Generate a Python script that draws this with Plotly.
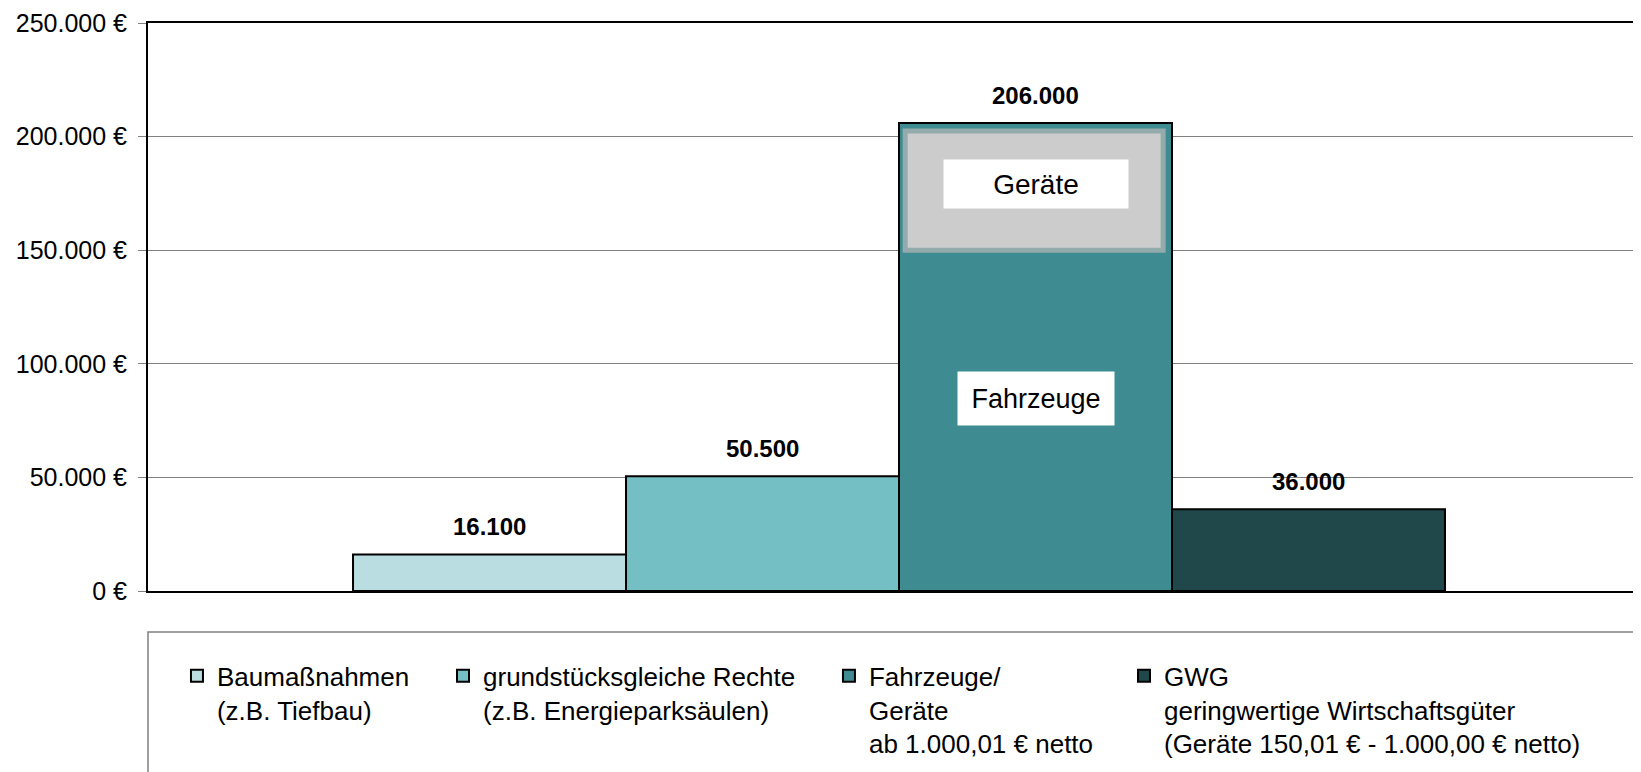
import plotly.graph_objects as go

# ---- data ----
categories = ["Baumaßnahmen<br>(z.B. Tiefbau)",
              "grundstücksgleiche Rechte<br>(z.B. Energieparksäulen)",
              "Fahrzeuge/<br>Geräte<br>ab 1.000,01 € netto",
              "GWG<br>geringwertige Wirtschaftsgüter<br>(Geräte 150,01 € - 1.000,00 € netto)"]
values = [16100, 50500, 206000, 36000]
value_labels = ["16.100", "50.500", "206.000", "36.000"]
colors = ["#b9dde1", "#73bfc4", "#3e8c91", "#20484b"]
positions = [0, 1, 2, 3]

# sub-division of the Fahrzeuge/Geräte bar
geraete_base = 150000
geraete_top = 202500
geraete_label_y = 179000
fahrzeuge_label_y = 84700

y_ticks = [0, 50000, 100000, 150000, 200000, 250000]
y_ticktext = [f"{v:,.0f}".replace(",", ".") + " €" for v in y_ticks]

FONT = "Liberation Sans, Arial, sans-serif"

fig = go.Figure()

legend_names = ["legend", "legend2", "legend3", "legend4"]
for i in range(4):
    fig.add_trace(go.Bar(
        x=[positions[i]], y=[values[i]], width=1.0,
        name=categories[i],
        marker=dict(color=colors[i], line=dict(color="black", width=2)),
        legend=legend_names[i],
        hoverinfo="skip",
    ))

# Geräte block inside the third bar
fig.add_trace(go.Bar(
    x=[positions[2] - 0.005], y=[geraete_top - geraete_base], base=[geraete_base],
    width=0.945,
    marker=dict(color="#cccccc", line=dict(color="#93abac", width=5)),
    showlegend=False, hoverinfo="skip",
))

annotations = []
for i in range(4):
    annotations.append(dict(
        x=positions[i], y=values[i], xref="x", yref="y",
        text="<b>%s</b>" % value_labels[i], showarrow=False,
        yanchor="bottom", yshift=12,
        font=dict(family=FONT, size=24, color="black"),
    ))
annotations.append(dict(
    x=positions[2], y=geraete_label_y, xref="x", yref="y", text="Geräte",
    showarrow=False, bgcolor="white", width=182, height=46,
    font=dict(family=FONT, size=28, color="black"),
))
annotations.append(dict(
    x=positions[2], y=fahrzeuge_label_y, xref="x", yref="y", text="Fahrzeuge",
    showarrow=False, bgcolor="white", width=154, height=51,
    font=dict(family=FONT, size=27, color="black"),
))

legend_x = [0.0194, 0.1976, 0.4561, 0.6537]
leg_common = dict(orientation="v", yanchor="top", y=-0.108, xanchor="left",
                  bgcolor="rgba(0,0,0,0)", borderwidth=0, valign="top",
                  font=dict(family=FONT, size=26, color="black"))
layout_legends = {}
for name, lx in zip(legend_names, legend_x):
    layout_legends[name] = dict(x=lx, **leg_common)

fig.update_layout(
    width=1633, height=764,
    margin=dict(l=140, r=0, t=15, b=181),
    paper_bgcolor="white", plot_bgcolor="white",
    barmode="overlay",
    showlegend=True,
    annotations=annotations,
    shapes=[dict(type="rect", xref="paper", yref="paper",
                 x0=0, x1=1.2, y0=-0.6, y1=-0.0722,
                 line=dict(color="#808080", width=1.5), layer="below")],
    xaxis=dict(range=[-1.251, 4.218], showgrid=False, zeroline=False,
               showticklabels=False, ticks="", showline=True, mirror=True,
               linecolor="black", linewidth=2),
    yaxis=dict(range=[0, 250000], tickvals=y_ticks, ticktext=y_ticktext,
               showgrid=True, gridcolor="#808080", gridwidth=1,
               zeroline=False, showline=True, linecolor="black", linewidth=2,
               ticks="outside", ticklen=8, tickcolor="#808080", tickwidth=1,
               ticklabelstandoff=6,
               tickfont=dict(family=FONT, size=25, color="black")),
    **layout_legends,
)

fig.write_html("out.html")
